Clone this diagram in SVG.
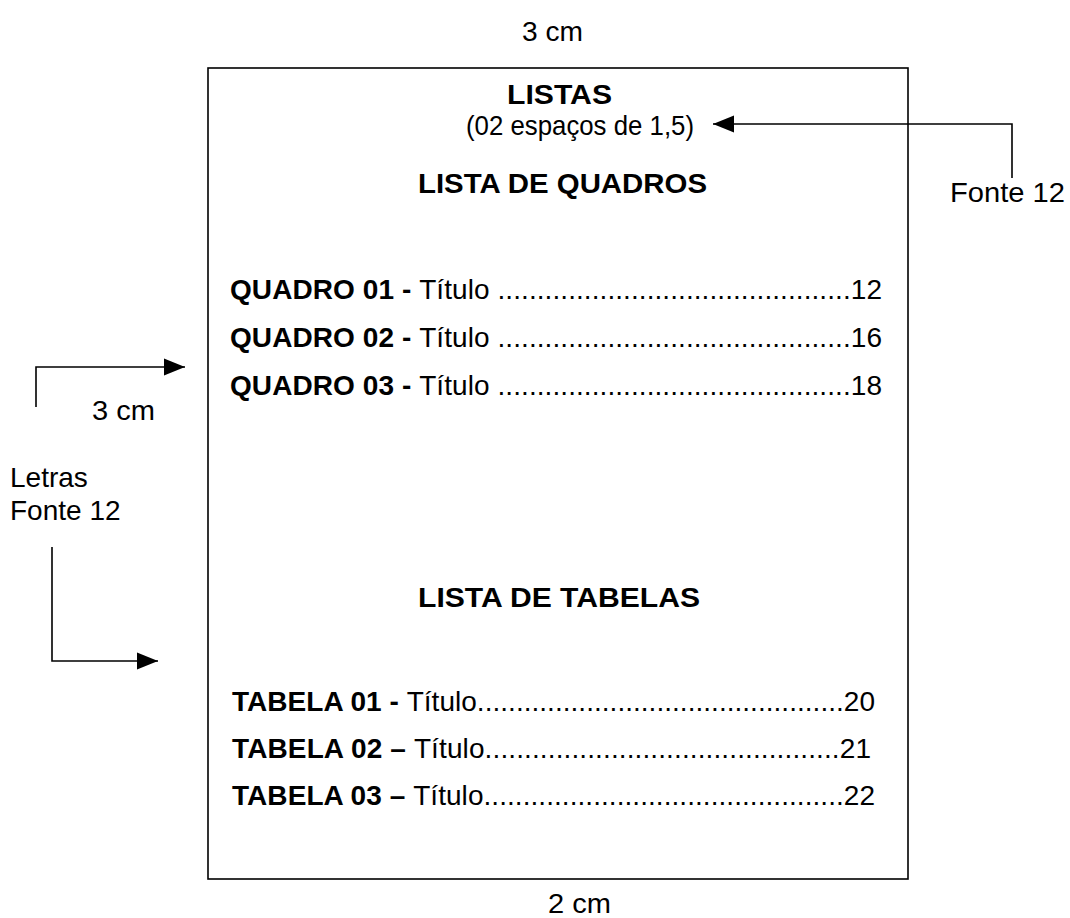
<svg xmlns="http://www.w3.org/2000/svg" width="1070" height="918" viewBox="0 0 1070 918">
<style>
text{font-family:"Liberation Sans",Arial,sans-serif;font-size:28px;fill:#000}
.b{font-weight:bold}
.ln{fill:none;stroke:#000;stroke-width:1.6}
</style>
<defs>
<marker id="ah" markerWidth="22" markerHeight="20" viewBox="0 0 22 20" refX="21" refY="10" orient="auto" markerUnits="userSpaceOnUse">
<path d="M0,1.5 L21,10 L0,18.5 Z" fill="#000"/>
</marker>
</defs>
<rect width="1070" height="918" fill="#fff"/>
<g id="page">
<rect x="208" y="68" width="700" height="811" fill="#fff" stroke="#000" stroke-width="1.6"/>
<text class="b" x="507" y="104" textLength="105" lengthAdjust="spacingAndGlyphs">LISTAS</text>
<text x="466" y="135" font-size="27" textLength="228" lengthAdjust="spacingAndGlyphs">(02 espaços de 1,5)</text>
<text class="b" x="418" y="193" textLength="289" lengthAdjust="spacingAndGlyphs">LISTA DE QUADROS</text>
<text x="230" y="299" textLength="652" lengthAdjust="spacing"><tspan class="b">QUADRO 01 - </tspan>Título .............................................12</text>
<text x="230" y="347" textLength="652" lengthAdjust="spacing"><tspan class="b">QUADRO 02 - </tspan>Título .............................................16</text>
<text x="230" y="395" textLength="652" lengthAdjust="spacing"><tspan class="b">QUADRO 03 - </tspan>Título .............................................18</text>
<text class="b" x="418" y="607" textLength="282" lengthAdjust="spacingAndGlyphs">LISTA DE TABELAS</text>
<text x="232" y="711" textLength="643" lengthAdjust="spacing"><tspan class="b">TABELA 01 - </tspan>Título...............................................20</text>
<text x="232" y="758" textLength="639" lengthAdjust="spacing"><tspan class="b">TABELA 02 – </tspan>Título.............................................21</text>
<text x="232" y="805" textLength="643" lengthAdjust="spacing"><tspan class="b">TABELA 03 – </tspan>Título..............................................22</text>
</g>
<g id="label-top"><text x="522" y="41" textLength="61" lengthAdjust="spacingAndGlyphs">3 cm</text></g>
<g id="label-bottom"><text x="548" y="913" textLength="63" lengthAdjust="spacingAndGlyphs">2 cm</text></g>
<g id="label-left"><text x="92" y="420" textLength="63" lengthAdjust="spacingAndGlyphs">3 cm</text></g>
<g id="label-letras"><text x="10" y="487">Letras</text><text x="10" y="520">Fonte 12</text></g>
<g id="label-right"><text x="950" y="202" textLength="115" lengthAdjust="spacingAndGlyphs">Fonte 12</text></g>
<g id="connectors">
<path class="ln" d="M1012,178 V124 H713" marker-end="url(#ah)"/>
<path class="ln" d="M36,407 V367 H185" marker-end="url(#ah)"/>
<path class="ln" d="M52,547 V661 H158" marker-end="url(#ah)"/>
</g>
</svg>
